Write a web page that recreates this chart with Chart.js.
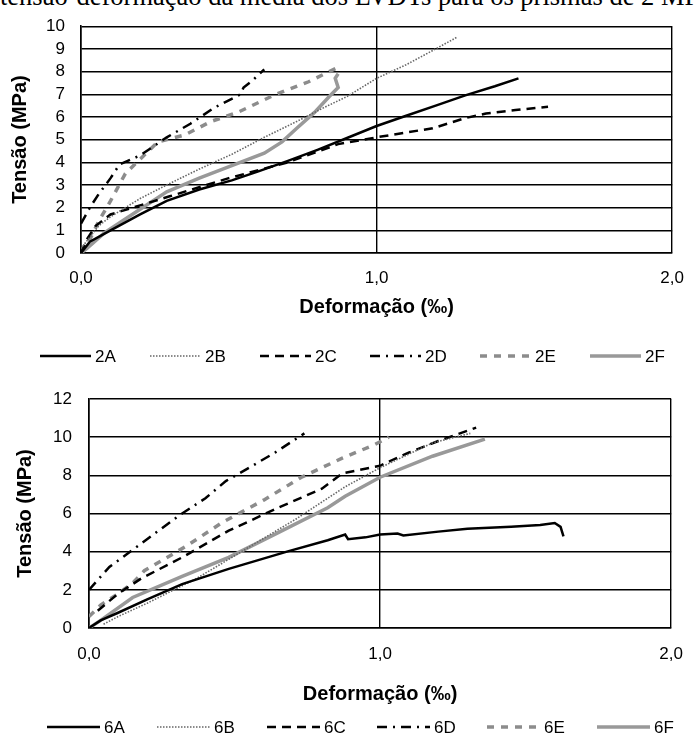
<!DOCTYPE html>
<html>
<head>
<meta charset="utf-8">
<script src="https://cdn.jsdelivr.net/npm/chart.js@4.4.1/dist/chart.umd.min.js"></script>
<style>
body { margin: 0; background: #fff; }
#page { position: relative; width: 699px; height: 740px; overflow: hidden; background: #fff; }
#caption { position: absolute; left: 0; top: -17px; white-space: nowrap; font: 26.5px/26px "Liberation Serif", "Times New Roman", serif; color: #000; }
canvas { position: absolute; left: 0; }
#c2 { top: 0; }
#c6 { top: 370px; }
</style>
</head>
<body>
<div id="page">
  <div id="caption">tensão-deformação da média dos LVDTs para os prismas de 2 MPa</div>
  <canvas id="c2" width="699" height="375"></canvas>
  <canvas id="c6" width="699" height="370"></canvas>
</div>
<script>
// prismas de 2 MPa
const x2A = [0, 0.03, 0.1, 0.2, 0.29, 0.4, 0.51, 0.6, 0.7, 0.8, 0.9, 1.0, 1.1, 1.2, 1.3, 1.4, 1.48]
const y2A = [0, 0.5, 1.0, 1.7, 2.3, 2.8, 3.2, 3.6, 4.06, 4.55, 5.07, 5.6, 6.05, 6.5, 6.95, 7.35, 7.7]
const x2B = [0.0, 0.03, 0.06, 0.1, 0.2, 0.29, 0.4, 0.51, 0.62, 0.73, 0.82, 0.9, 1.0, 1.1, 1.2, 1.27]
const y2B = [0.2, 0.7, 1.2, 1.6, 2.4, 3.0, 3.7, 4.35, 5.1, 5.8, 6.4, 6.9, 7.7, 8.3, 9.0, 9.5]
const x2C = [0, 0.02, 0.05, 0.1, 0.2, 0.3, 0.5, 0.7, 0.87, 1.0, 1.07, 1.19, 1.3, 1.37, 1.47, 1.58]
const y2C = [0, 0.6, 1.2, 1.7, 2.1, 2.5, 3.3, 4.0, 4.8, 5.1, 5.25, 5.5, 5.95, 6.15, 6.3, 6.45]
const x2D = [0, 0.03, 0.06, 0.1, 0.13, 0.2, 0.29, 0.37, 0.45, 0.51, 0.54, 0.55, 0.58, 0.62]
const y2D = [1.3, 2.0, 2.6, 3.3, 3.9, 4.3, 5.1, 5.7, 6.4, 6.8, 7.0, 7.3, 7.6, 8.1]
const x2E = [0, 0.03, 0.06, 0.1, 0.15, 0.26, 0.35, 0.44, 0.53, 0.66, 0.77, 0.84, 0.88]
const y2E = [0, 0.6, 1.4, 2.3, 3.5, 4.9, 5.2, 5.8, 6.2, 7.0, 7.55, 8.0, 8.25]
const x2F = [0, 0.02, 0.08, 0.15, 0.29, 0.4, 0.51, 0.62, 0.68, 0.73, 0.79, 0.84, 0.87, 0.86, 0.87]
const y2F = [0, 0.2, 0.9, 1.5, 2.7, 3.3, 3.85, 4.4, 4.9, 5.5, 6.2, 6.9, 7.3, 7.7, 7.9]

// prismas de 6 MPa
const x6A = [0, 0.04, 0.1, 0.2, 0.32, 0.48, 0.68, 0.82, 0.88, 0.89, 0.95, 1.0, 1.06, 1.08, 1.2, 1.3, 1.45, 1.55, 1.6, 1.62, 1.63]
const y6A = [0, 0.4, 0.8, 1.5, 2.3, 3.1, 4.0, 4.6, 4.9, 4.65, 4.75, 4.9, 4.95, 4.85, 5.05, 5.2, 5.3, 5.4, 5.5, 5.3, 4.8]
const x6B = [0.05, 0.1, 0.2, 0.37, 0.48, 0.6, 0.71, 0.88, 1.0, 1.18, 1.31]
const y6B = [0.2, 0.6, 1.3, 2.6, 3.6, 4.7, 5.7, 7.4, 8.4, 9.7, 10.2]
const x6C = [0.03, 0.1, 0.18, 0.32, 0.48, 0.65, 0.8, 0.87, 1.0, 1.1, 1.2, 1.33]
const y6C = [0.9, 1.8, 2.6, 3.7, 5.1, 6.3, 7.3, 8.1, 8.5, 9.2, 9.8, 10.5]
const x6D = [0, 0.07, 0.15, 0.23, 0.31, 0.40, 0.47, 0.55, 0.64, 0.74]
const y6D = [2.0, 3.2, 4.1, 5.0, 5.9, 6.8, 7.7, 8.4, 9.2, 10.2]
const x6E = [0.0, 0.04, 0.1, 0.15, 0.19, 0.33, 0.46, 0.6, 0.73, 0.87, 0.98, 1.03]
const y6E = [0.6, 1.2, 1.8, 2.35, 3.0, 4.25, 5.55, 6.7, 7.9, 8.9, 9.6, 10.0]
const x6F = [0, 0.04, 0.15, 0.32, 0.48, 0.65, 0.82, 0.88, 1.0, 1.18, 1.36]
const y6F = [0, 0.4, 1.6, 2.7, 3.7, 5.0, 6.3, 6.9, 7.9, 9.0, 9.9]

const xTicks = [0, 1, 2]
const labels2 = ['2A', '2B', '2C', '2D', '2E', '2F']
const labels6 = ['6A', '6B', '6C', '6D', '6E', '6F']

// one style per curve letter (A..F)
const styles = [
    { color: '#000', width: 2.5, dash: [] },
    { color: '#666', width: 1.6, dash: [1.5, 1.5] },
    { color: '#000', width: 2.5, dash: [9, 6] },
    { color: '#000', width: 2.5, dash: [10, 6, 2, 6] },
    { color: '#8c8c8c', width: 3.5, dash: [7, 7] },
    { color: '#999', width: 3.5, dash: [] }
]

Chart.defaults.font.family = '"Liberation Sans", Arial, sans-serif'
Chart.defaults.color = '#000'

// legend drawn as line samples like the original figure
const lineLegend = {
    id: 'lineLegend',
    afterDraw(chart, args, opts) {
        const ctx = chart.ctx
        chart.data.datasets.forEach((ds, i) => {
            const x = opts.x0 + i * opts.step
            ctx.save()
            ctx.strokeStyle = ds.borderColor
            ctx.lineWidth = ds.borderWidth
            ctx.setLineDash(ds.borderDash)
            ctx.beginPath()
            ctx.moveTo(x, opts.y)
            ctx.lineTo(x + opts.len, opts.y)
            ctx.stroke()
            ctx.fillStyle = '#000'
            ctx.font = '17px "Liberation Sans", Arial, sans-serif'
            ctx.textBaseline = 'middle'
            ctx.fillText(ds.label, x + opts.len + 4, opts.y + 1)
            ctx.restore()
        })
    }
}

function makeDatasets(labels, xs, ys) {
    return labels.map((label, i) => ({
        label: label,
        data: xs[i].map((v, k) => ({ x: v, y: ys[i][k] })),
        borderColor: styles[i].color,
        borderWidth: styles[i].width,
        borderDash: styles[i].dash,
        pointRadius: 0,
        tension: 0,
        fill: false
    }))
}

function makeConfig(datasets, o) {
    const grid = { color: '#000', lineWidth: 1.4, drawTicks: false }
    const border = { color: '#000', width: 1.6 }
    return {
        type: 'line',
        data: { datasets: datasets },
        options: {
            responsive: false,
            animation: false,
            layout: { padding: o.padding },
            plugins: {
                legend: { display: false },
                tooltip: { enabled: false },
                lineLegend: o.legend
            },
            scales: {
                x: {
                    type: 'linear',
                    min: 0,
                    max: 2,
                    afterBuildTicks: s => { s.ticks = xTicks.map(v => ({ value: v })) },
                    ticks: {
                        padding: o.xPad,
                        maxRotation: 0,
                        font: { size: 17 },
                        callback: v => v.toFixed(1).replace('.', ',')
                    },
                    grid: grid,
                    border: border,
                    title: { display: true, text: 'Deformação (‰)', font: { size: 20, weight: 'bold' }, padding: { top: 0, bottom: o.xTitlePad } },
                    afterFit: s => { s.height = o.xHeight }
                },
                y: {
                    min: 0,
                    max: o.yMax,
                    ticks: { stepSize: o.yStep, autoSkip: false, padding: o.yPad, font: { size: 17 } },
                    grid: grid,
                    border: border,
                    title: { display: true, text: 'Tensão (MPa)', font: { size: 20, weight: 'bold' }, padding: { top: o.yTitlePad, bottom: 0 } },
                    afterFit: s => { s.width = o.yWidth }
                }
            }
        },
        plugins: [lineLegend]
    }
}

new Chart(document.getElementById('c2'), makeConfig(
    makeDatasets(labels2, [x2A, x2B, x2C, x2D, x2E, x2F], [y2A, y2B, y2C, y2D, y2E, y2F]),
    {
        padding: { top: 24, right: 21, bottom: 52, left: 0 },
        yMax: 10, yStep: 1, yWidth: 81, yPad: 16, yTitlePad: 8,
        xHeight: 70, xPad: 15, xTitlePad: 4,
        legend: { x0: 40, step: 110, len: 51, y: 356 }
    }
))

new Chart(document.getElementById('c6'), makeConfig(
    makeDatasets(labels6, [x6A, x6B, x6C, x6D, x6E, x6F], [y6A, y6B, y6C, y6D, y6E, y6F]),
    {
        padding: { top: 29, right: 15, bottom: 34, left: 0 },
        yMax: 12, yStep: 2, yWidth: 89, yPad: 17, yTitlePad: 13,
        xHeight: 78, xPad: 16, xTitlePad: 0,
        legend: { x0: 47, step: 110, len: 53, y: 357 }
    }
))
</script>
</body>
</html>
